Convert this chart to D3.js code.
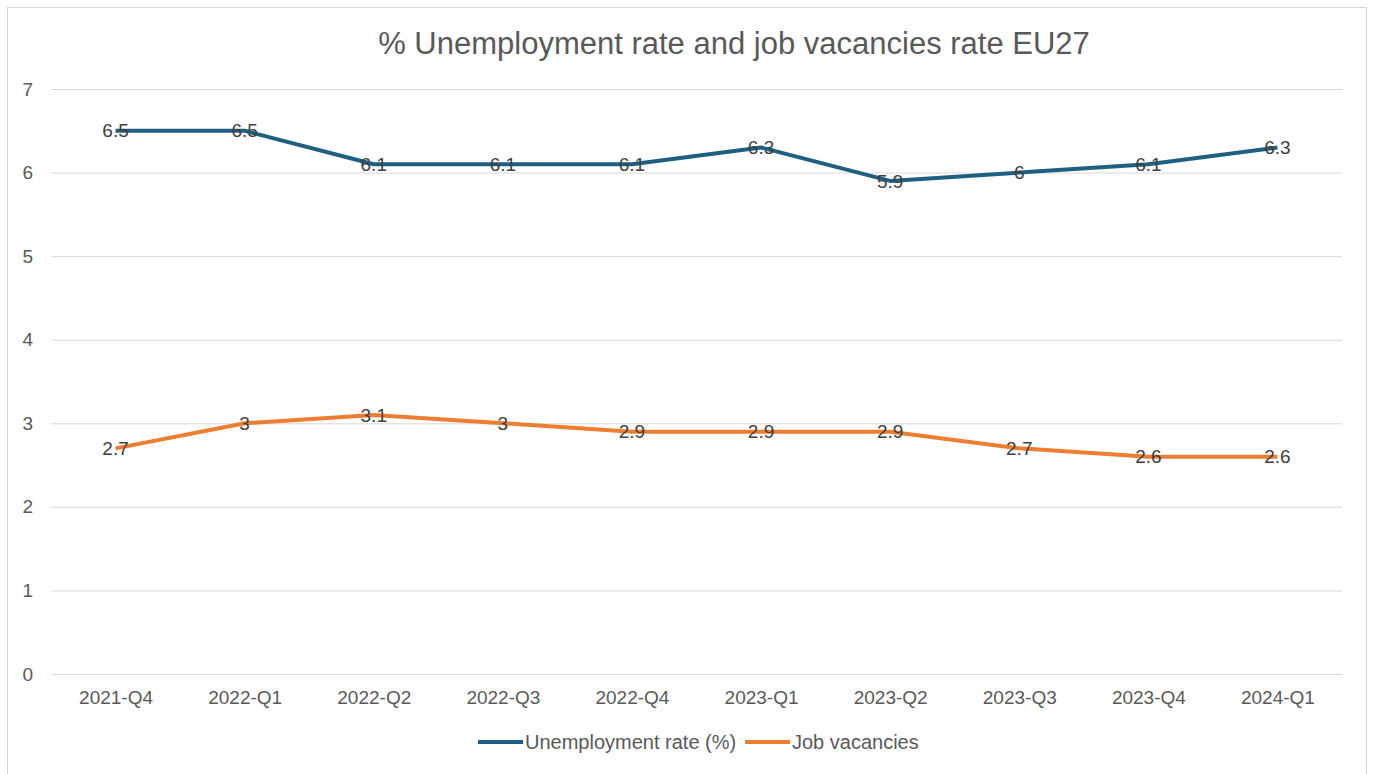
<!DOCTYPE html>
<html>
<head>
<meta charset="utf-8">
<script src="https://cdn.jsdelivr.net/npm/d3@7"></script>
<style>
  body { margin: 0; background: #fff; }
  svg { display: block; font-family: "Liberation Sans", Arial, sans-serif; }
</style>
</head>
<body>
<svg width="1373" height="774"></svg>
<script>
const quarters = ["2021-Q4", "2022-Q1", "2022-Q2", "2022-Q3", "2022-Q4",
  "2023-Q1", "2023-Q2", "2023-Q3", "2023-Q4", "2024-Q1"];
const unemployment = [6.5, 6.5, 6.1, 6.1, 6.1, 6.3, 5.9, 6, 6.1, 6.3];
const vacancies = [2.7, 3, 3.1, 3, 2.9, 2.9, 2.9, 2.7, 2.6, 2.6];
const yTicks = [0, 1, 2, 3, 4, 5, 6, 7];
const seriesNames = ["Unemployment rate (%)", "Job vacancies"];
const colors = ["#1f5f82", "#ed7d31"];

const width = 1373;
const height = 774;
const margin = { top: 89, bottom: 100, left: 51, right: 31 };

const svg = d3.select("svg");

// chart frame
svg.append("rect")
  .attr("x", 7.5).attr("y", 7.5)
  .attr("width", 1359).attr("height", 780)
  .attr("fill", "#fff")
  .attr("stroke", "#d4d4d4");

const xScale = d3.scalePoint()
  .domain(quarters)
  .range([margin.left, width - margin.right])
  .padding(0.5);

const yScale = d3.scaleLinear()
  .domain([0, 7])
  .range([height - margin.bottom, margin.top]);

// y grid + labels
const yAxis = d3.axisLeft(yScale)
  .tickValues(yTicks)
  .tickSize(-(width - margin.left - margin.right))
  .tickPadding(18)
  .tickFormat(d3.format("d"));

const gy = svg.append("g")
  .attr("transform", `translate(${margin.left},0)`)
  .call(yAxis);
gy.select(".domain").remove();
gy.selectAll("line").attr("stroke", "#d9d9d9");
gy.selectAll("text")
  .attr("fill", "#595959")
  .style("font-size", "19px");

// x labels
const xAxis = d3.axisBottom(xScale).tickSize(0).tickPadding(17);
const gx = svg.append("g")
  .attr("transform", `translate(0,${height - margin.bottom})`)
  .call(xAxis);
gx.select(".domain").remove();
gx.selectAll("text")
  .attr("fill", "#595959")
  .style("font-size", "19px");

// lines
const allSeries = [unemployment, vacancies];
const line = d3.line()
  .x((d, i) => xScale(quarters[i]))
  .y(d => yScale(d));

allSeries.forEach((vals, s) => {
  svg.append("path")
    .datum(vals)
    .attr("fill", "none")
    .attr("stroke", colors[s])
    .attr("stroke-width", 4)
    .attr("stroke-linejoin", "round")
    .attr("d", line);
});

// data labels
allSeries.forEach(vals => {
  svg.append("g")
    .selectAll("text")
    .data(vals)
    .enter()
    .append("text")
    .attr("x", (d, i) => xScale(quarters[i]))
    .attr("y", d => yScale(d))
    .attr("dy", "0.35em")
    .attr("text-anchor", "middle")
    .attr("fill", "#404040")
    .style("font-size", "19px")
    .text(d => d);
});

// title
svg.append("text")
  .attr("x", 734)
  .attr("y", 54)
  .attr("text-anchor", "middle")
  .attr("fill", "#595959")
  .style("font-size", "31px")
  .text("% Unemployment rate and job vacancies rate EU27");

// legend
const legendX = [478, 745];
seriesNames.forEach((name, s) => {
  const g = svg.append("g").attr("transform", `translate(${legendX[s]},742)`);
  g.append("line")
    .attr("x1", 0).attr("x2", 45)
    .attr("stroke", colors[s])
    .attr("stroke-width", 4);
  g.append("text")
    .attr("x", 47)
    .attr("dy", "0.35em")
    .attr("fill", "#595959")
    .style("font-size", "20px")
    .text(name);
});
</script>
</body>
</html>
